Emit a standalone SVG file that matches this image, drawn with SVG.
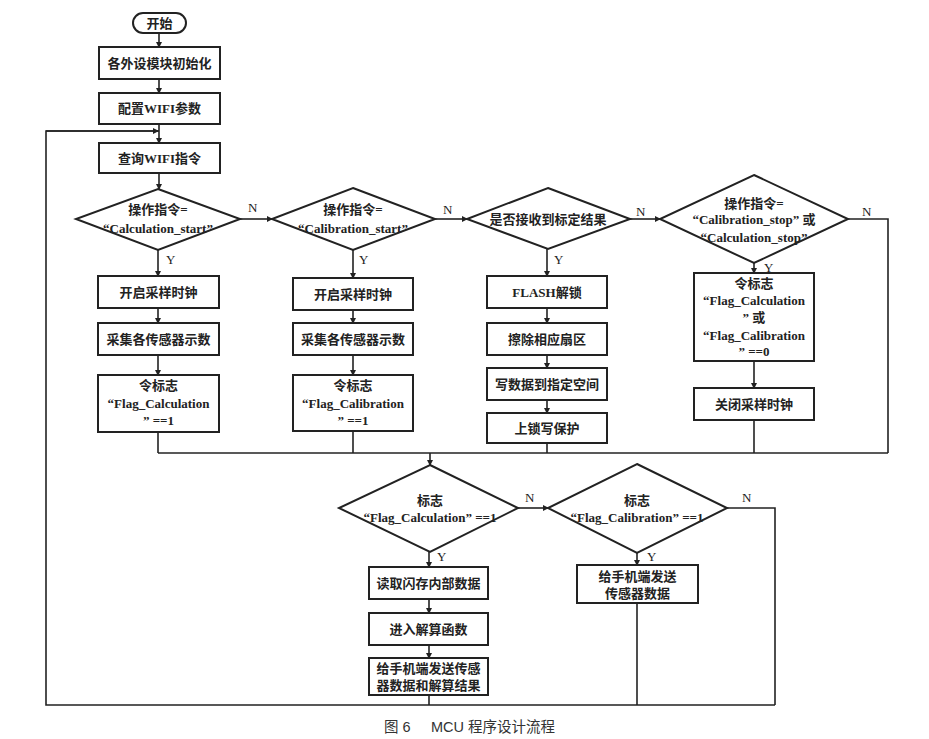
<svg xmlns="http://www.w3.org/2000/svg" width="929" height="739" viewBox="0 0 929 739">
<style>
.n{fill:#fff;stroke:#222;stroke-width:2}
.t{font-family:"Liberation Serif","Noto Sans CJK SC",serif;font-weight:bold;font-size:13px;fill:#222;text-anchor:middle}
.l{font-family:"Liberation Serif",serif;font-size:13px;fill:#222}
.c{fill:none;stroke:#222;stroke-width:1.6}
.a{marker-end:url(#ah)}
.cap{font-family:"Liberation Sans","Noto Sans CJK SC",sans-serif;font-size:14.5px;fill:#333}
</style>
<defs>
<marker id="ah" markerWidth="6" markerHeight="6" refX="5" refY="3" orient="auto" markerUnits="userSpaceOnUse">
<path d="M0,0 L6,3 L0,6 Z" fill="#222"/>
</marker>
</defs>
<rect width="929" height="739" fill="#fff"/>
<g id="connectors">
<path class="c a" d="M159,33 V47"/>
<path class="c a" d="M159,79 V93"/>
<path class="c a" d="M159,124 V143"/>
<path class="c a" d="M159,173 V189"/>
<path class="c a" d="M240,219 H272"/>
<path class="c a" d="M435,219 H467"/>
<path class="c a" d="M630,219 H660"/>
<path class="c" d="M848,219 H888 V453"/>
<path class="c a" d="M158,250 V276"/>
<path class="c a" d="M158,308 V323"/>
<path class="c a" d="M158,355 V375"/>
<path class="c" d="M158,432 V453"/>
<path class="c a" d="M353,250 V278"/>
<path class="c a" d="M353,310 V323"/>
<path class="c a" d="M353,355 V375"/>
<path class="c" d="M353,431 V453"/>
<path class="c a" d="M547,249 V276"/>
<path class="c a" d="M547,308 V323"/>
<path class="c a" d="M547,355 V368"/>
<path class="c a" d="M547,400 V413"/>
<path class="c" d="M547,443 V453"/>
<path class="c a" d="M754,263 V273"/>
<path class="c a" d="M754,361 V388"/>
<path class="c" d="M754,420 V453"/>
<path class="c" d="M158,453 H888"/>
<path class="c a" d="M430,453 V465"/>
<path class="c a" d="M518,508 H548"/>
<path class="c" d="M727,508 H775 V705"/>
<path class="c a" d="M429,552 V567"/>
<path class="c a" d="M429,599 V613"/>
<path class="c a" d="M429,645 V658"/>
<path class="c" d="M429,695 V705"/>
<path class="c a" d="M637,553 V565"/>
<path class="c" d="M637,603 V705"/>
<path class="c" d="M775,705 H46 V131 H159"/>
<path class="c a" d="M46,131 H158"/>
<text class="l" x="248" y="212">N</text>
<text class="l" x="166" y="264">Y</text>
<text class="l" x="443" y="214">N</text>
<text class="l" x="359" y="264">Y</text>
<text class="l" x="636" y="216">N</text>
<text class="l" x="554" y="264">Y</text>
<text class="l" x="862" y="216">N</text>
<text class="l" x="764" y="272">Y</text>
<text class="l" x="525" y="502">N</text>
<text class="l" x="437" y="561">Y</text>
<text class="l" x="742" y="502">N</text>
<text class="l" x="647" y="561">Y</text>
</g>
<g id="start"><rect class="n" x="133" y="13" width="53" height="20" rx="10"/><text class="t" x="159.5" y="28">开始</text></g>
<g id="init"><rect class="n" x="99" y="47" width="121" height="32"/><text class="t" x="159.5" y="68">各外设模块初始化</text></g>
<g id="wifi-cfg"><rect class="n" x="99" y="93" width="121" height="31"/><text class="t" x="159.5" y="113">配置WIFI参数</text></g>
<g id="wifi-query"><rect class="n" x="99" y="143" width="121" height="30"/><text class="t" x="159.5" y="163">查询WIFI指令</text></g>
<g id="d1"><polygon class="n" points="158,189 240,219 158,250 76,219"/><text class="t" x="158" y="214">操作指令=</text><text class="t" x="158" y="233">“Calculation_start”</text></g>
<g id="d2"><polygon class="n" points="353,188 435,219 353,250 272,219"/><text class="t" x="353" y="214">操作指令=</text><text class="t" x="353" y="233">“Calibration_start”</text></g>
<g id="d3"><polygon class="n" points="548,188 630,219 548,249 467,219"/><text class="t" x="548" y="224">是否接收到标定结果</text></g>
<g id="d4"><polygon class="n" points="754,175 848,219 754,263 660,219"/><text class="t" x="754" y="208">操作指令=</text><text class="t" x="754" y="224">“Calibration_stop” 或</text><text class="t" x="754" y="242">“Calculation_stop”</text></g>
<g id="b1a"><rect class="n" x="98" y="276" width="121" height="32"/><text class="t" x="158.5" y="297">开启采样时钟</text></g>
<g id="b1b"><rect class="n" x="98" y="323" width="121" height="32"/><text class="t" x="158.5" y="344">采集各传感器示数</text></g>
<g id="b1c"><rect class="n" x="98" y="375" width="121" height="57"/><text class="t" x="158.5" y="390">令标志</text><text class="t" x="158.5" y="408">“Flag_Calculation</text><text class="t" x="158.5" y="425">” ==1</text></g>
<g id="b2a"><rect class="n" x="293" y="278" width="120" height="32"/><text class="t" x="353" y="299">开启采样时钟</text></g>
<g id="b2b"><rect class="n" x="293" y="323" width="120" height="32"/><text class="t" x="353" y="344">采集各传感器示数</text></g>
<g id="b2c"><rect class="n" x="293" y="375" width="120" height="56"/><text class="t" x="353" y="390">令标志</text><text class="t" x="353" y="408">“Flag_Calibration</text><text class="t" x="353" y="425">” ==1</text></g>
<g id="b3a"><rect class="n" x="487" y="276" width="120" height="32"/><text class="t" x="547" y="297">FLASH解锁</text></g>
<g id="b3b"><rect class="n" x="487" y="323" width="120" height="32"/><text class="t" x="547" y="344">擦除相应扇区</text></g>
<g id="b3c"><rect class="n" x="487" y="368" width="120" height="32"/><text class="t" x="547" y="389">写数据到指定空间</text></g>
<g id="b3d"><rect class="n" x="487" y="413" width="120" height="30"/><text class="t" x="547" y="433">上锁写保护</text></g>
<g id="b4a"><rect class="n" x="694" y="273" width="120" height="88"/><text class="t" x="754" y="288">令标志</text><text class="t" x="754" y="305">“Flag_Calculation</text><text class="t" x="754" y="322">” 或</text><text class="t" x="754" y="340">“Flag_Calibration</text><text class="t" x="754" y="356">” ==0</text></g>
<g id="b4b"><rect class="n" x="694" y="388" width="120" height="32"/><text class="t" x="754" y="409">关闭采样时钟</text></g>
<g id="d5"><polygon class="n" points="430,465 518,508 430,552 339,508"/><text class="t" x="430" y="505">标志</text><text class="t" x="430" y="522">“Flag_Calculation” ==1</text></g>
<g id="d6"><polygon class="n" points="637,464 727,508 637,553 548,508"/><text class="t" x="637" y="505">标志</text><text class="t" x="637" y="522">“Flag_Calibration” ==1</text></g>
<g id="b5a"><rect class="n" x="369" y="567" width="119" height="32"/><text class="t" x="428.5" y="588">读取闪存内部数据</text></g>
<g id="b5b"><rect class="n" x="369" y="613" width="119" height="32"/><text class="t" x="428.5" y="634">进入解算函数</text></g>
<g id="b5c"><rect class="n" x="369" y="658" width="119" height="37"/><text class="t" x="428.5" y="673">给手机端发送传感</text><text class="t" x="428.5" y="690">器数据和解算结果</text></g>
<g id="b6a"><rect class="n" x="577" y="565" width="121" height="38"/><text class="t" x="637.5" y="581">给手机端发送</text><text class="t" x="637.5" y="598">传感器数据</text></g>
<text class="cap" x="384" y="732">图 6<tspan x="431">MCU 程序设计流程</tspan></text>
</svg>
